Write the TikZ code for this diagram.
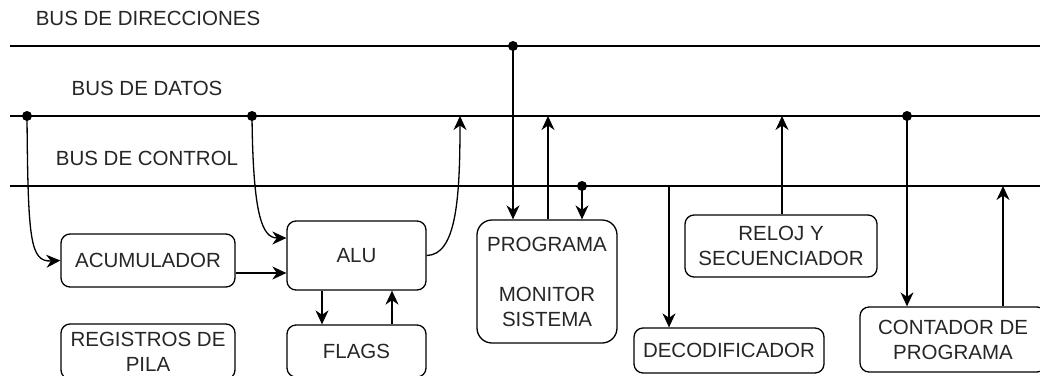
\documentclass[tikz,border=0pt]{standalone}
\usepackage{fontspec}
\setmainfont{Liberation Sans}
\usetikzlibrary{arrows.meta,calc}
\begin{document}
\begin{tikzpicture}[x=1pt,y=-1pt,
  txt/.style={font=\fontsize{20.5}{25}\selectfont, text=black!85},
  blk/.style={txt, draw, line width=1.3pt, rounded corners=9pt, align=center,
    inner sep=0pt, minimum width=#1},
  bus/.style={line width=1.3pt},
  link/.style={line width=1.3pt, -{Stealth[length=14pt,width=13pt,inset=4.5pt]}},
  tap/.style={circle, fill=black, inner sep=0pt, minimum size=10pt}]
\useasboundingbox (0,0) rectangle (1040,375);
\clip (0,0) rectangle (1040,375);

% bus labels and lines
\node[txt] (lab1) at (148,18) {BUS DE DIRECCIONES};
\node[txt] (lab2) at (147,88) {BUS DE DATOS};
\node[txt] (lab3) at (147,158) {BUS DE CONTROL};
\coordinate (a0) at (10,46);  \coordinate (a1) at (1045,46);
\coordinate (d0) at (10,116); \coordinate (d1) at (1045,116);
\coordinate (c0) at (10,186); \coordinate (c1) at (1045,186);
\draw[bus] (a0) -- (a1);
\draw[bus] (d0) -- (d1);
\draw[bus] (c0) -- (c1);

% blocks
\node[blk=174pt, minimum height=53pt] (acum) at (148,260.5) {ACUMULADOR};
\node[blk=139pt, minimum height=69pt] (alu) at (356.5,255.5) {ALU};
\node[blk=174pt, minimum height=55pt] (pila) at (148,351.5) {REGISTROS DE\\PILA};
\node[blk=139pt, minimum height=52pt] (flags) at (356.5,351) {FLAGS};
\node[blk=140pt, minimum height=123pt, rounded corners=15pt] (prog) at (547,281.5)
  {PROGRAMA\\[25pt]MONITOR\\SISTEMA};
\node[blk=192pt, minimum height=62pt] (reloj) at (781,246) {RELOJ Y\\SECUENCIADOR};
\node[blk=190pt, minimum height=45pt] (deco) at (729,350.5) {DECODIFICADOR};
\node[blk=186pt, minimum height=65pt] (cont) at (953,339.5) {CONTADOR DE\\PROGRAMA};

% bus taps
\node[tap] (t1) at (27,116) {};
\node[tap] (t2) at (252,116) {};
\node[tap] (t3) at (513,46) {};
\node[tap] (t4) at (582,186) {};
\node[tap] (t5) at (907,116) {};
\coordinate (b1) at (460,116);
\coordinate (b2) at (548,116);
\coordinate (b3) at (669,186);
\coordinate (b4) at (782,116);
\coordinate (b5) at (1003,186);

% connectors
\draw[link] (t1.center) .. controls (28,240) and (30,262) .. (acum.west);
\draw[link] (t2.center) .. controls (253,215) and (262,238) .. (alu.west |- 0,238);
\draw[link] (acum.east |- 0,273) -- (alu.west |- 0,273);
\draw[link] (alu.east) .. controls (456,255) and (460,200) .. (b1);
\draw[link] (alu.south -| 322,0) -- (flags.north -| 322,0);
\draw[link] (flags.north -| 392,0) -- (alu.south -| 392,0);
\draw[link] (t3.center) -- (prog.north -| t3);
\draw[link] (prog.north -| b2) -- (b2);
\draw[link] (t4.center) -- (prog.north -| t4);
\draw[link] (b3) -- (deco.north -| b3);
\draw[link] (reloj.north -| b4) -- (b4);
\draw[link] (t5.center) -- (cont.north -| t5);
\draw[link] (cont.north -| b5) -- (b5);
\end{tikzpicture}
\end{document}
